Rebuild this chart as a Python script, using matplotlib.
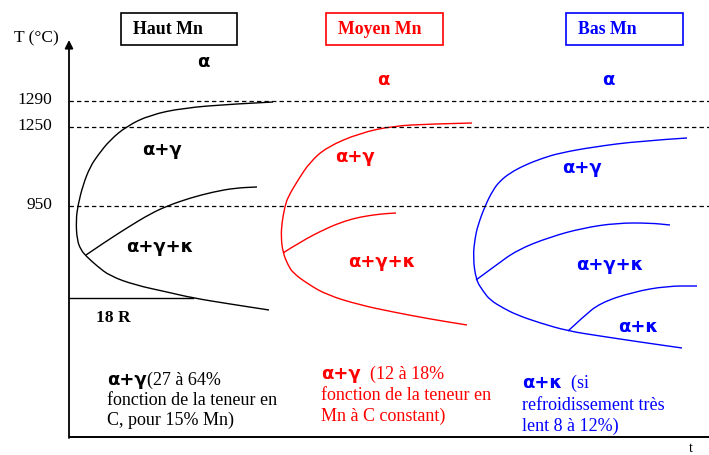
import matplotlib
matplotlib.use("Agg")
import matplotlib.pyplot as plt
from matplotlib.path import Path
from matplotlib.patches import PathPatch

# Diagram drawn in image-like coordinates (x to the right, y downward)
SERIF = "Liberation Serif"
GREEK = "DejaVu Sans"

# temperature levels (label, y position of dashed line)
temp_labels = ["1290", "1250", "950"]
temp_levels = [101, 127, 206]

# --- Haut Mn (black) ---
haut_outer_x = [273, 233, 183, 150, 127, 110, 98, 90, 83, 78, 76, 77, 81, 86, 97, 110, 135, 167, 193, 230, 269]
haut_outer_y = [102, 104, 108, 115, 126, 140, 155, 167, 185, 205, 220, 240, 250, 256, 266, 276, 285, 292, 298, 304, 310]
haut_inner_x = [86, 105, 130, 150, 167, 190, 213, 235, 257]
haut_inner_y = [255, 242, 226, 214, 206, 198, 192, 188, 187]
haut_18R_x = [69, 193]
haut_18R_y = [298, 298]

# --- Moyen Mn (red) ---
moyen_outer_x = [472, 430, 393, 360, 327, 310, 298, 288, 285, 282, 281, 283, 288, 293, 308, 327, 360, 393, 430, 467]
moyen_outer_y = [123, 124, 126, 133, 147, 162, 180, 197, 206, 222, 237, 253, 265, 273, 284, 295, 305, 312, 319, 325]
moyen_inner_x = [283, 300, 327, 345, 360, 380, 396]
moyen_inner_y = [253, 242, 228, 221, 217, 214, 213]

# --- Bas Mn (blue) ---
bas_outer_x = [687, 640, 593, 560, 543, 525, 510, 500, 493, 485, 478, 475, 473, 476, 483, 490, 503, 517, 540, 568, 600, 640, 682]
bas_outer_y = [138, 141, 147, 153, 158, 165, 173, 181, 190, 206, 225, 238, 257, 280, 291, 300, 308, 315, 323, 331, 336, 342, 348]
bas_inner1_x = [476, 495, 517, 550, 583, 617, 650, 670]
bas_inner1_y = [280, 266, 250, 237, 228, 223, 223, 225]
bas_inner2_x = [568, 583, 600, 633, 667, 697]
bas_inner2_y = [331, 317, 303, 292, 286, 286]

# headers
box_titles = ["Haut Mn", "Moyen Mn", "Bas Mn"]
box_colors = ["black", "red", "blue"]
box_left = [121, 326, 566]
box_right = [237, 443, 683]

# phase labels
phase_text = ["α", "α+γ", "α+γ+κ",
              "α", "α+γ", "α+γ+κ",
              "α", "α+γ", "α+γ+κ", "α+κ"]
phase_x = [203, 162, 160, 383, 355, 382, 608, 582, 610, 638]
phase_y = [62, 150, 247, 80, 157, 262, 80, 168, 265, 327]
phase_col = ["black"] * 3 + ["red"] * 3 + ["blue"] * 4

# notes at the bottom
note_greek = ["α+γ", "α+γ", "α+κ"]
note_first = ["(27 à 64%", "  (12 à 18%", "  (si"]
note_rest = [["fonction de la teneur en", "C, pour 15% Mn)"],
             ["fonction de la teneur en", "Mn à C constant)"],
             ["refroidissement très", "lent 8 à 12%)"]]
note_x = [107, 321, 522]
note_base = [385, 379, 388]
note_step = [20, 21, 21.5]
note_col = ["black", "red", "blue"]


def curve(xs, ys, color):
    # smooth path through the read points (quadratic segments between midpoints)
    pts = list(zip(xs, ys))
    verts = [pts[0]]
    codes = [Path.MOVETO]
    for i in range(1, len(pts) - 1):
        mid = ((pts[i][0] + pts[i + 1][0]) / 2, (pts[i][1] + pts[i + 1][1]) / 2)
        verts += [pts[i], mid]
        codes += [Path.CURVE3, Path.CURVE3]
    verts.append(pts[-1])
    codes.append(Path.LINETO)
    ax.add_patch(PathPatch(Path(verts, codes), fill=False, edgecolor=color, lw=1))


fig = plt.figure(figsize=(7.09, 4.55), dpi=100)
ax = fig.add_axes([0, 0, 1, 1])
ax.set_xlim(0, 709)
ax.set_ylim(455, 0)
ax.axis("off")

# axes of the diagram
ax.annotate("", xy=(69, 40), xytext=(69, 438),
            arrowprops=dict(arrowstyle="-|>", color="black", lw=1.3,
                            mutation_scale=12, shrinkA=0, shrinkB=0))
ax.plot([69, 709], [437, 437], color="black", lw=1.4, solid_capstyle="butt")
ax.text(14, 38, "T (°C)", fontsize=12.5, family=SERIF, va="center")
ax.text(689, 442, "t", fontsize=10, family=SERIF, va="top")

for lab, yv in zip(temp_labels, temp_levels):
    ax.plot([69, 709], [yv, yv], color="black", lw=0.9, linestyle=(0, (3.5, 2.5)))
    ax.text(52, yv - 1, lab, fontsize=12.5, family=SERIF, ha="right", va="center")

# curves
curve(haut_outer_x, haut_outer_y, "black")
curve(haut_inner_x, haut_inner_y, "black")
ax.plot(haut_18R_x, haut_18R_y, color="black", lw=1)
ax.text(96, 318, "18 R", fontsize=12.5, family=SERIF, weight="bold", va="center")

curve(moyen_outer_x, moyen_outer_y, "red")
curve(moyen_inner_x, moyen_inner_y, "red")

curve(bas_outer_x, bas_outer_y, "blue")
curve(bas_inner1_x, bas_inner1_y, "blue")
curve(bas_inner2_x, bas_inner2_y, "blue")

# header boxes
for title, col, x0, x1 in zip(box_titles, box_colors, box_left, box_right):
    ax.add_patch(plt.Rectangle((x0, 13), x1 - x0, 32, fill=False, edgecolor=col, lw=1.2))
    ax.text(x0 + 12, 29.5, title, fontsize=12.8, family=SERIF, weight="bold",
            color=col, va="center")

for t, xv, yv, col in zip(phase_text, phase_x, phase_y, phase_col):
    ax.text(xv, yv, t, fontsize=13, family=GREEK, weight="bold", color=col,
            ha="center", va="center")

# bottom notes: bold greek followed by serif text
fig.canvas.draw()
inv = ax.transData.inverted()
for g, first, rest, xv, yb, step, col in zip(note_greek, note_first, note_rest,
                                           note_x, note_base, note_step, note_col):
    tg = ax.text(xv, yb, g, fontsize=13, family=GREEK, weight="bold", color=col, va="baseline")
    bb = tg.get_window_extent(fig.canvas.get_renderer())
    x_end = inv.transform((bb.x1, bb.y0))[0]
    ax.text(x_end, yb, first, fontsize=13, family=SERIF, color=col, va="baseline")
    for i, line in enumerate(rest):
        ax.text(xv, yb + step * (i + 1), line, fontsize=13, family=SERIF, color=col, va="baseline")

fig.savefig("out.png", dpi=100)
